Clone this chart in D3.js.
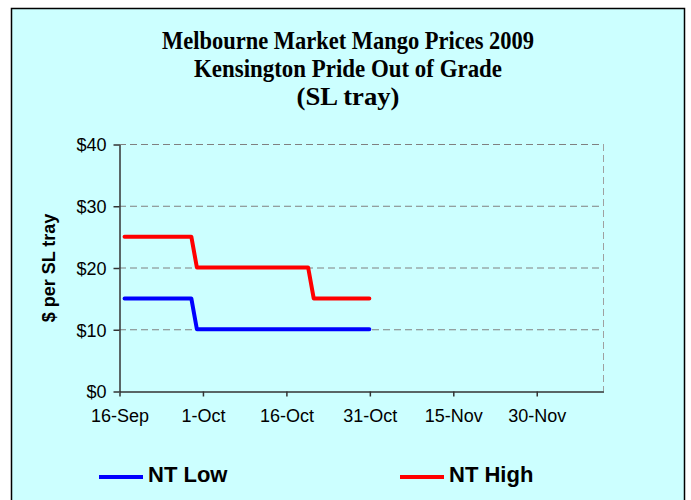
<!DOCTYPE html>
<html lang="en">
<head>
  <meta charset="UTF-8">
  <title>Melbourne Market Mango Prices 2009</title>
  <style>
    body { margin: 0; background: #fff; }
    svg { display: block; }
    .tick-label { font-family: "Liberation Sans", Arial, sans-serif; font-size: 18px; fill: #000; }
    .title { font-family: "Liberation Serif", "Times New Roman", serif; font-weight: bold; font-size: 25px; fill: #000; }
  </style>
</head>
<body>
<div id="chart"></div>
<script src="https://d3js.org/d3.v7.min.js"></script>
<script>
const width = 691;
const height = 500;

// chart data
const titleLines = ['Melbourne Market Mango Prices 2009', 'Kensington Pride Out of Grade', '(SL tray)'];
const seriesNames = ['NT Low', 'NT High'];
const seriesColors = ['#0000ff', '#ff0000'];
const dates = ['2009-09-17', '2009-09-29', '2009-09-30', '2009-10-20', '2009-10-21', '2009-10-31'];
const ntLow = [15, 15, 10, 10, 10, 10];
const ntHigh = [25, 25, 20, 20, 15, 15];
const yTicks = [0, 10, 20, 30, 40];
const xTickDates = ['2009-09-16', '2009-10-01', '2009-10-16', '2009-10-31', '2009-11-15', '2009-11-30'];

const parse = d3.timeParse('%Y-%m-%d');
const fmt = d3.timeFormat('%-d-%b');

const plot = { left: 119, right: 603, top: 144, bottom: 391 };

const x = d3.scaleTime()
    .domain([parse('2009-09-16'), parse('2009-12-12')])
    .range([plot.left, plot.right]);
const y = d3.scaleLinear()
    .domain([0, 40])
    .range([plot.bottom, plot.top]);

const svg = d3.select('#chart').append('svg')
    .attr('width', width)
    .attr('height', height);

// chart area background + frame
svg.append('rect')
    .attr('x', 11.5).attr('y', 8.5)
    .attr('width', 673).attr('height', 500)
    .attr('fill', '#ccffff')
    .attr('stroke', '#000')
    .attr('stroke-width', 1.5);

// titles
svg.selectAll('.title')
    .data(titleLines)
    .enter().append('text')
    .attr('class', 'title')
    .attr('x', 348)
    .attr('y', (d, i) => 49 + i * 28)
    .attr('text-anchor', 'middle')
    .attr('textLength', (d, i) => [372, 308, 103][i])
    .attr('lengthAdjust', 'spacingAndGlyphs')
    .text(d => d);

// gridlines
svg.append('g')
    .selectAll('line')
    .data(yTicks.filter(d => d > 0))
    .enter().append('line')
    .attr('x1', plot.left).attr('x2', plot.right)
    .attr('y1', d => y(d) + 0.5).attr('y2', d => y(d) + 0.5)
    .attr('stroke', '#808080')
    .attr('stroke-dasharray', '7,4');

// right border of plot
svg.append('line')
    .attr('x1', plot.right + 0.5).attr('x2', plot.right + 0.5)
    .attr('y1', plot.top).attr('y2', plot.bottom)
    .attr('stroke', '#a0a0a0')
    .attr('stroke-dasharray', '7,4');

// y axis
const yAxis = svg.append('g')
    .attr('transform', `translate(${plot.left + 0.5},0.5)`)
    .call(d3.axisLeft(y).tickValues(yTicks).tickFormat(d => '$' + d).tickSize(6).tickSizeOuter(0));
yAxis.select('.domain').attr('stroke', '#333').attr('stroke-width', 1.5);
yAxis.selectAll('.tick line').attr('stroke', '#333').attr('stroke-width', 1.5);
yAxis.selectAll('.tick text')
    .attr('class', 'tick-label')
    .attr('x', -13)
    .attr('dy', '0.35em');

// x axis
const xAxis = svg.append('g')
    .attr('transform', `translate(0.5,${plot.bottom + 0.5})`)
    .call(d3.axisBottom(x).tickValues(xTickDates.map(parse)).tickFormat(fmt).tickSize(5).tickSizeOuter(0));
xAxis.select('.domain').attr('stroke', '#333').attr('stroke-width', 1.5);
xAxis.selectAll('.tick line').attr('stroke', '#333').attr('stroke-width', 1.5);
xAxis.selectAll('.tick text')
    .attr('class', 'tick-label')
    .attr('y', 18)
    .attr('dy', '0.71em');
svg.selectAll('g').attr('font-family', null).attr('font-size', null);

// y axis title
svg.append('text')
    .attr('transform', 'translate(55,268) rotate(-90)')
    .attr('text-anchor', 'middle')
    .attr('font-family', '"Liberation Sans", Arial, sans-serif')
    .attr('font-weight', 'bold')
    .attr('font-size', 18)
    .text('$ per SL tray');

// series lines
const series = [ntLow, ntHigh].map((vals, i) => ({
    name: seriesNames[i],
    color: seriesColors[i],
    points: vals.map((v, j) => ({ date: parse(dates[j]), value: v }))
}));

const line = d3.line()
    .x(d => x(d.date))
    .y(d => y(d.value));

svg.selectAll('.series')
    .data(series)
    .enter().append('path')
    .attr('class', 'series')
    .attr('d', d => line(d.points))
    .attr('fill', 'none')
    .attr('stroke', d => d.color)
    .attr('stroke-width', 4)
    .attr('stroke-linejoin', 'round')
    .attr('stroke-linecap', 'round');

// legend
const legend = svg.selectAll('.legend')
    .data(series)
    .enter().append('g')
    .attr('class', 'legend')
    .attr('transform', (d, i) => `translate(${[99, 400][i]},477)`);
legend.append('line')
    .attr('x1', 0).attr('x2', 44)
    .attr('stroke', d => d.color)
    .attr('stroke-width', 4);
legend.append('text')
    .attr('x', 49)
    .attr('y', 5)
    .attr('font-family', '"Liberation Sans", Arial, sans-serif')
    .attr('font-weight', 'bold')
    .attr('font-size', 22)
    .text(d => d.name);
</script>
</body>
</html>
